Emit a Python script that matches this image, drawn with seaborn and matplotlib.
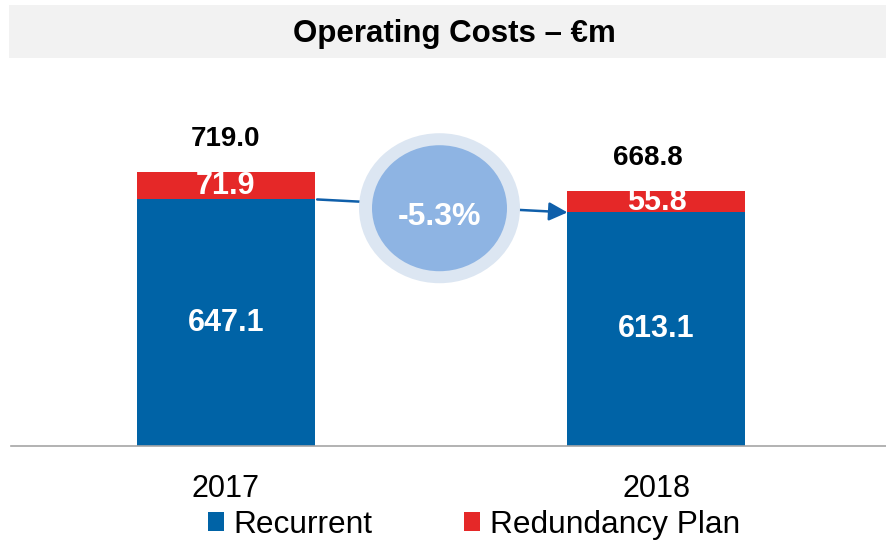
import matplotlib
matplotlib.use("Agg")
import matplotlib.pyplot as plt
from matplotlib.patches import Rectangle, Ellipse, Patch
import seaborn as sns
import pandas as pd

# ---- data ----
years = ["2017", "2018"]
recurrent = [647.1, 613.1]
redundancy = [71.9, 55.8]
totals = [719.0, 668.8]
series_labels = ["Recurrent", "Redundancy Plan"]
title = "Operating Costs – €m"

BLUE = "#0063A6"
RED = "#E52828"
ARROW = "#0F5FAA"
RING = "#DCE6F2"
DISC = "#8EB4E3"

sns.set_theme(style="white")
plt.rcParams["font.family"] = ["Liberation Sans", "DejaVu Sans"]

W, H = 887, 543
fig = plt.figure(figsize=(W / 100, H / 100), dpi=100)

# axes geometry (pixels)
base_px = 446
px_per_unit_x = 430.5
px_per_unit_y = 0.381
left_px = 11
c0_px = 226
ax = fig.add_axes([left_px / W, (H - base_px) / H, (W - left_px) / W, base_px / H])

df = pd.DataFrame({"year": years, "total": totals, "recurrent": recurrent})
bw = 178 / px_per_unit_x
sns.barplot(data=df, x="year", y="total", color=RED, width=bw, errorbar=None,
            saturation=1, ax=ax, linewidth=0)
sns.barplot(data=df, x="year", y="recurrent", color=BLUE, width=bw, errorbar=None,
            saturation=1, ax=ax, linewidth=0)

ax.set_xlim((left_px - c0_px) / px_per_unit_x, (W - c0_px) / px_per_unit_x)
ax.set_ylim(0, base_px / px_per_unit_y)
ax.set_xlabel("")
ax.set_ylabel("")
ax.set_yticks([])
for s in ["top", "left", "right"]:
    ax.spines[s].set_visible(False)
ax.spines["bottom"].set_color("#A6A6A6")
ax.spines["bottom"].set_linewidth(1.2)
ax.tick_params(axis="x", length=0, pad=20, labelsize=22, labelcolor="black")
ax.patch.set_alpha(0)

# value labels
for i in range(len(years)):
    ax.text(i, recurrent[i] / 2, f"{recurrent[i]:.1f}", ha="center", va="center",
            color="white", fontsize=22, fontweight="bold")
    ax.text(i, recurrent[i] + redundancy[i] / 2, f"{redundancy[i]:.1f}", ha="center",
            va="center", color="white", fontsize=22, fontweight="bold")
total_dx = [0, -9]
for i in range(len(years)):
    ax.annotate(f"{totals[i]:.1f}", xy=(i, totals[i]), xytext=(total_dx[i] * 0.72, 33 * 0.72),
                textcoords="offset points", ha="center", va="center",
                color="black", fontsize=20, fontweight="bold")

# arrow between recurrent tops
ax.annotate("", xy=(1 - bw / 2, recurrent[1]), xytext=(bw / 2 + 0.005, recurrent[0]),
            arrowprops=dict(arrowstyle="-|>", color=ARROW, lw=1.8, mutation_scale=28,
                            shrinkA=0, shrinkB=0), zorder=3)

# circle badge
cx = (439.5 - c0_px) / px_per_unit_x
cy = sum(recurrent) / 2 - 6
ax.add_patch(Ellipse((cx, cy), 161 / px_per_unit_x, 150 / px_per_unit_y,
                     facecolor=RING, edgecolor="none", zorder=4))
ax.add_patch(Ellipse((cx, cy), 135 / px_per_unit_x, 126 / px_per_unit_y,
                     facecolor=DISC, edgecolor="none", zorder=5))
pct = (recurrent[1] / recurrent[0] - 1) * 100
ax.text(cx, cy - 9 / px_per_unit_y, f"{pct:.1f}%", ha="center", va="center",
        color="white", fontsize=23, fontweight="bold", zorder=6)

# title banner
fig.patches.append(Rectangle((9 / W, 1 - 58 / H), 1 - 9 / W, 53 / H, transform=fig.transFigure,
                             facecolor="#F2F2F2", edgecolor="none", zorder=0))
fig.text(454 / W, 1 - 34 / H, title, ha="center", va="center", fontsize=22.5,
         fontweight="bold", color="black")

# legend
handles = [Patch(facecolor=BLUE, edgecolor="none"), Patch(facecolor=RED, edgecolor="none")]
fig.legend(handles, series_labels, loc="center", bbox_to_anchor=(474 / W, 1 - 525 / H),
           ncol=2, frameon=False, fontsize=22.8, handlelength=0.5, handleheight=0.55,
           handletextpad=0.3, columnspacing=2.9, borderpad=0, borderaxespad=0,
           labelcolor="black")

fig.savefig("out.png", dpi=100)
